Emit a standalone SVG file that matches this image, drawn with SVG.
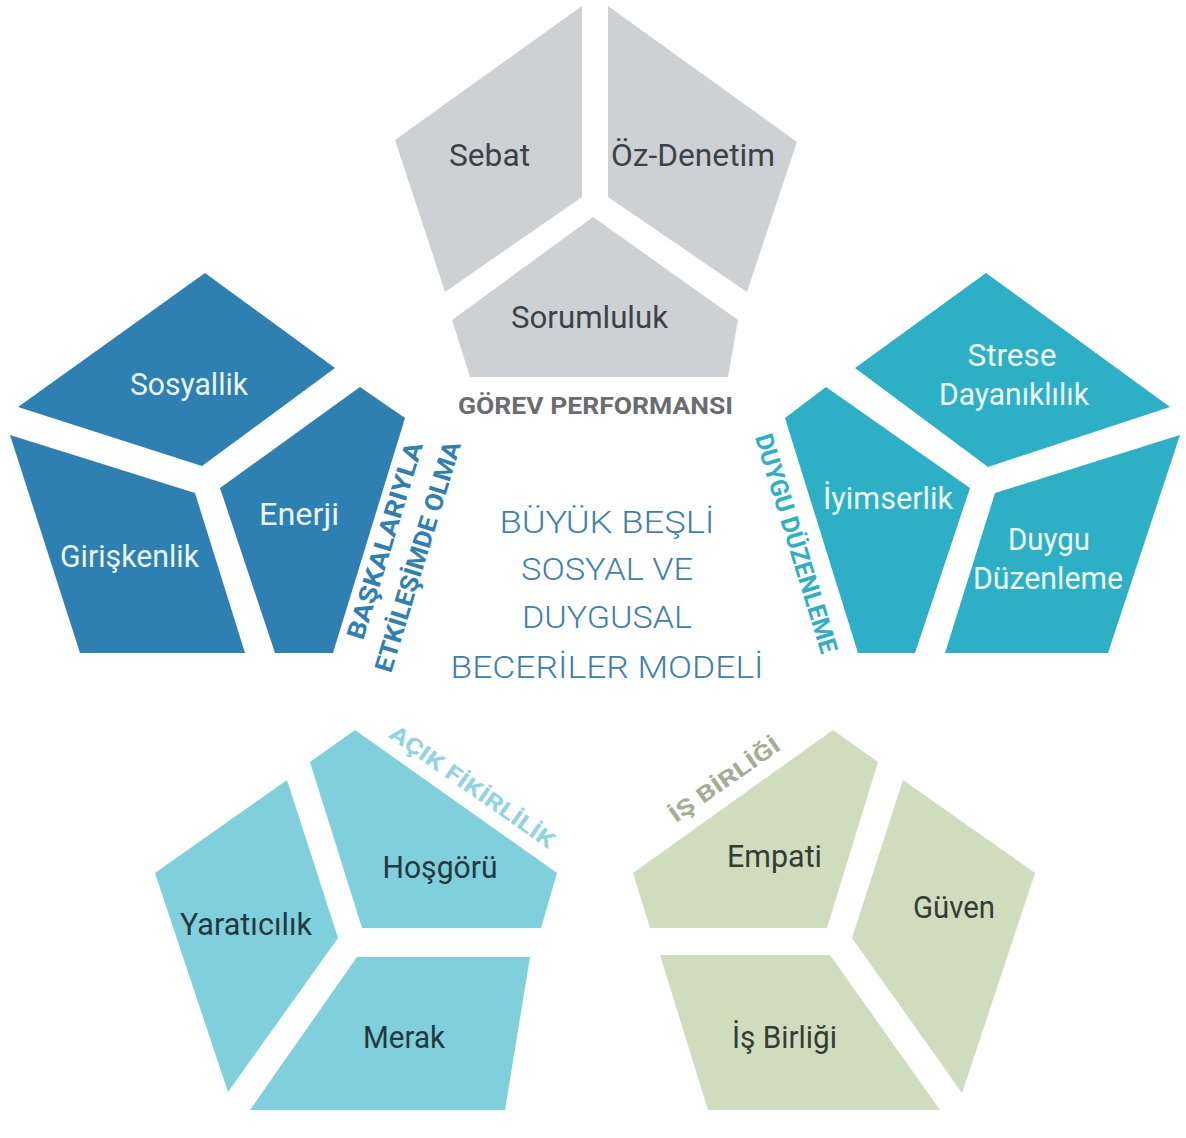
<svg xmlns="http://www.w3.org/2000/svg" width="1186" height="1138" viewBox="0 0 1186 1138">
<style>
.lbl{font-family:Roboto,"Noto Sans","Liberation Sans",sans-serif;font-size:31px;text-anchor:middle}
.gray{fill:#ced1d4}.gray-t{fill:#3d4247}
.blue{fill:#2d80b1}.blue-t{fill:#eaf5fb}
.teal{fill:#2db0c6}.teal-t{fill:#eefafc}
.lb{fill:#7fcfdd}.lb-t{fill:#24383f}
.sage{fill:#cfdcbd}.sage-t{fill:#353d34}
.cap{font-family:Roboto,"Noto Sans","Liberation Sans",sans-serif;font-weight:700;text-anchor:middle}
.title{font-family:Roboto,"Noto Sans","Liberation Sans",sans-serif;font-weight:300;font-size:32px;text-anchor:middle;fill:#3d7fae}
</style>
<rect width="1186" height="1138" fill="#ffffff"/>

<g id="gorev-performansi">
  <g id="sebat"><polygon class="gray" points="582,6 582,197 445,292 395,140"/><text class="lbl gray-t" x="489.5" y="166" textLength="81" lengthAdjust="spacingAndGlyphs">Sebat</text></g>
  <g id="oz-denetim"><polygon class="gray" points="608,6 797,142 747,292 608,197"/><text class="lbl gray-t" x="693" y="166" textLength="164" lengthAdjust="spacingAndGlyphs">Öz-Denetim</text></g>
  <g id="sorumluluk"><polygon class="gray" points="593,217 738,320 728,377 470,377 452,320"/><text class="lbl gray-t" x="589.5" y="328" textLength="157" lengthAdjust="spacingAndGlyphs">Sorumluluk</text></g>
  <text class="cap" x="595.5" y="414" font-size="24" fill="#6a6c6f" textLength="275" lengthAdjust="spacingAndGlyphs">GÖREV PERFORMANSI</text>
</g>

<g id="baskalariyla-etkilesimde-olma">
  <g id="sosyallik"><polygon class="blue" points="205,273 335,368 202,466 18,407"/><text class="lbl blue-t" x="189" y="395" textLength="118" lengthAdjust="spacingAndGlyphs">Sosyallik</text></g>
  <g id="enerji"><polygon class="blue" points="360,387 405,418 333,653 275,653 220,488"/><text class="lbl blue-t" x="299" y="525" textLength="80" lengthAdjust="spacingAndGlyphs">Enerji</text></g>
  <g id="giriskenlik"><polygon class="blue" points="10,435 195,493 245,653 80,653"/><text class="lbl blue-t" x="129.5" y="567" textLength="139" lengthAdjust="spacingAndGlyphs">Girişkenlik</text></g>
  <text class="cap" font-size="25" fill="#2d80b1" transform="translate(393,543) rotate(-73)" textLength="205" lengthAdjust="spacingAndGlyphs">BAŞKALARIYLA</text>
  <text class="cap" font-size="25" fill="#2d80b1" transform="translate(426,559) rotate(-73)" textLength="240" lengthAdjust="spacingAndGlyphs">ETKİLEŞİMDE OLMA</text>
</g>

<g id="duygu-duzenleme">
  <g id="strese-dayaniklilik"><polygon class="teal" points="986,273 1170,407 988,467 855,368"/><text class="lbl teal-t" x="1012" y="366" textLength="89" lengthAdjust="spacingAndGlyphs">Strese</text><text class="lbl teal-t" x="1014" y="405" textLength="150" lengthAdjust="spacingAndGlyphs">Dayanıklılık</text></g>
  <g id="iyimserlik"><polygon class="teal" points="826,387 970,488 915,653 858,653 785,418"/><text class="lbl teal-t" x="888" y="509" textLength="130" lengthAdjust="spacingAndGlyphs">İyimserlik</text></g>
  <g id="duygu-duzenleme-node"><polygon class="teal" points="1180,435 995,493 945,653 1108,653"/><text class="lbl teal-t" x="1049" y="550" textLength="82" lengthAdjust="spacingAndGlyphs">Duygu</text><text class="lbl teal-t" x="1048" y="589" textLength="150" lengthAdjust="spacingAndGlyphs">Düzenleme</text></g>
  <text class="cap" font-size="25" fill="#2db0c6" transform="translate(788,546) rotate(73)" textLength="228" lengthAdjust="spacingAndGlyphs">DUYGU DÜZENLEME</text>
</g>

<g id="acik-fikirlilik">
  <g id="hosgoru"><polygon class="lb" points="355,730 557,873 541,928 362,928 310,762"/><text class="lbl lb-t" x="440" y="878" textLength="115" lengthAdjust="spacingAndGlyphs">Hoşgörü</text></g>
  <g id="yaraticilik"><polygon class="lb" points="287,780 338,938 228,1092 155,873"/><text class="lbl lb-t" x="246" y="935" textLength="132" lengthAdjust="spacingAndGlyphs">Yaratıcılık</text></g>
  <g id="merak"><polygon class="lb" points="357,957 530,957 505,1110 250,1110"/><text class="lbl lb-t" x="404" y="1048" textLength="82" lengthAdjust="spacingAndGlyphs">Merak</text></g>
  <text class="cap" font-size="22" fill="#8fd4e0" transform="translate(468,793) rotate(35)" textLength="196" lengthAdjust="spacingAndGlyphs">AÇIK FİKİRLİLİK</text>
</g>

<g id="is-birligi">
  <g id="empati"><polygon class="sage" points="833,730 878,762 827,928 650,928 633,873"/><text class="lbl sage-t" x="774.5" y="867" textLength="95" lengthAdjust="spacingAndGlyphs">Empati</text></g>
  <g id="guven"><polygon class="sage" points="903,780 1035,873 962,1093 852,938"/><text class="lbl sage-t" x="954" y="918" textLength="82" lengthAdjust="spacingAndGlyphs">Güven</text></g>
  <g id="is-birligi-node"><polygon class="sage" points="660,955 830,955 940,1110 708,1110"/><text class="lbl sage-t" x="784.5" y="1048" textLength="105" lengthAdjust="spacingAndGlyphs">İş Birliği</text></g>
  <text class="cap" font-size="22" fill="#a3ae96" transform="translate(729,786) rotate(-35)" textLength="130" lengthAdjust="spacingAndGlyphs">İŞ BİRLİĞİ</text>
</g>

<g id="center-title">
  <text class="title" x="607" y="533" textLength="215" lengthAdjust="spacingAndGlyphs">BÜYÜK BEŞLİ</text>
  <text class="title" x="607" y="580" textLength="172" lengthAdjust="spacingAndGlyphs">SOSYAL VE</text>
  <text class="title" x="607" y="628" textLength="170" lengthAdjust="spacingAndGlyphs">DUYGUSAL</text>
  <text class="title" x="607" y="678" textLength="313" lengthAdjust="spacingAndGlyphs">BECERİLER MODELİ</text>
</g>

<g id="connectors"></g>
</svg>
